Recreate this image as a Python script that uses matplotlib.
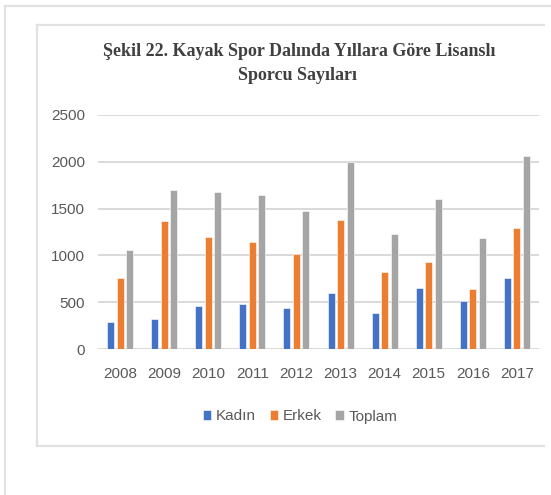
import numpy as np
import matplotlib
matplotlib.use("Agg")
import matplotlib.pyplot as plt
from matplotlib.lines import Line2D

# Data
years = ['2008', '2009', '2010', '2011', '2012', '2013', '2014', '2015', '2016', '2017']
kadin = [295, 326, 465, 486, 443, 603, 390, 657, 518, 763]
erkek = [765, 1365, 1194, 1147, 1019, 1375, 827, 934, 646, 1290]
toplam = [1062, 1695, 1674, 1642, 1478, 1994, 1232, 1599, 1183, 2058]
series_names = ['Kadın', 'Erkek', 'Toplam']
series_colors = ['#4472C4', '#ED7D31', '#A5A5A5']

W, H = 551, 495
fig = plt.figure(figsize=(W / 100, H / 100), dpi=100)

tick_font = ['Liberation Sans', 'DejaVu Sans']

# axes placed in pixel coordinates of the reference
x0, x1, ytop, ybot = 98, 539, 114.7, 349.3
ax = fig.add_axes([x0 / W, 1 - ybot / H, (x1 - x0) / W, (ybot - ytop) / H])

x = np.arange(len(years))
width = 0.16
for i, (vals, name, col) in enumerate(zip([kadin, erkek, toplam], series_names, series_colors)):
    ax.bar(x + (i - 1) * 0.215, vals, width, color=col, label=name, zorder=3,
           edgecolor='white', linewidth=0.4)

ax.set_xlim(-0.5, len(years) - 0.5)
ax.set_ylim(0, 2500)
ax.set_yticks([0, 500, 1000, 1500, 2000, 2500])
ax.set_xticks(x)
ax.set_xticklabels(years)
ax.grid(axis='y', color='#d9d9d9', linewidth=1.4, zorder=0)
for s in ax.spines.values():
    s.set_visible(False)
ax.tick_params(length=0, labelcolor='#595959', labelsize=11)
ax.tick_params(axis='x', pad=13)
ax.tick_params(axis='y', pad=9.5)
for lab in ax.get_xticklabels() + ax.get_yticklabels():
    lab.set_family(tick_font)

# title (two lines)
title_kw = dict(ha='center', va='center', fontsize=13, fontweight='bold',
                family='Liberation Serif', color='#404040')
fig.text(299 / W, 1 - 52 / H, 'Şekil 22. Kayak Spor Dalında Yıllara Göre Lisanslı', **title_kw)
fig.text(298 / W, 1 - 75 / H, 'Sporcu Sayıları', **title_kw)

# legend
leg = fig.legend(loc='center', bbox_to_anchor=(300 / W, 1 - 416.5 / H), ncol=3,
                 frameon=False, handlelength=0.55, handleheight=0.55,
                 handletextpad=0.3, columnspacing=0.9,
                 prop={'family': tick_font, 'size': 11})
for t in leg.get_texts():
    t.set_color('#595959')

# frame lines around the chart
def hline(y, xa, xb):
    fig.add_artist(Line2D([xa / W, xb / W], [1 - y / H, 1 - y / H], color='#e2e2e2', linewidth=1.6))

def vline(xp, ya, yb):
    fig.add_artist(Line2D([xp / W, xp / W], [1 - ya / H, 1 - yb / H], color='#e2e2e2', linewidth=1.6))

hline(6, 5, W)
vline(5, 6, H)
hline(24.5, 36.5, 544)
vline(36.5, 24.5, 446)
hline(446, 36.5, 544)

fig.savefig('out.png', dpi=100)
